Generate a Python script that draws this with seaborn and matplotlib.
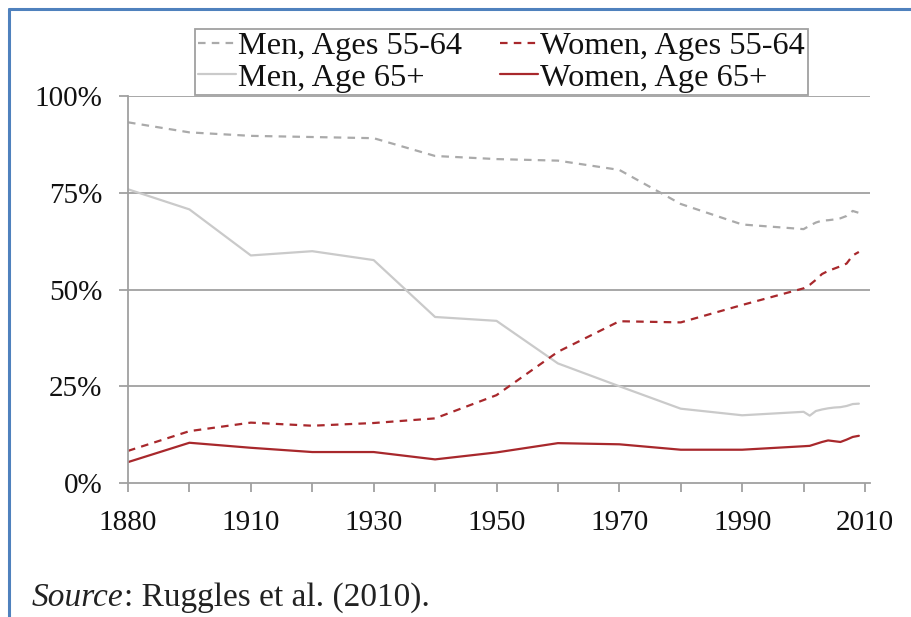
import matplotlib
matplotlib.use("Agg")
import matplotlib.pyplot as plt
from matplotlib.lines import Line2D
import seaborn as sns
import pandas as pd

# ---------------- data ----------------
categories = ["1880", "1900", "1910", "1920", "1930", "1940", "1950",
              "1960", "1970", "1980", "1990", "2000", "2010"]
shown_labels = ["1880", "", "1910", "", "1930", "", "1950",
                "", "1970", "", "1990", "", "2010"]
years = [1880, 1900, 1910, 1920, 1930, 1940, 1950, 1960, 1970, 1980, 1990,
         2000, 2001, 2002, 2003, 2004, 2005, 2006, 2007, 2008, 2009]
men_55_64 = [93.2, 90.6, 89.7, 89.4, 89.1, 84.5, 83.7, 83.3, 80.9, 72.1, 66.8,
             65.6, 66.5, 67.3, 67.8, 67.9, 68.1, 68.4, 69.0, 70.3, 69.8]
women_55_64 = [8.3, 13.4, 15.6, 14.8, 15.5, 16.7, 22.7, 33.9, 41.8, 41.5, 46.0,
               50.3, 51.2, 52.5, 54.0, 54.8, 55.4, 56.0, 56.7, 58.8, 59.7]
men_65 = [75.9, 70.7, 58.8, 59.9, 57.6, 42.9, 41.9, 30.9, 25.0, 19.2, 17.5,
          18.4, 17.4, 18.6, 19.0, 19.3, 19.5, 19.6, 19.9, 20.4, 20.5]
women_65 = [5.4, 10.4, 9.1, 8.0, 8.0, 6.1, 7.9, 10.3, 10.0, 8.6, 8.6,
            9.5, 9.6, 10.1, 10.6, 11.0, 10.8, 10.6, 11.2, 11.9, 12.2]
series_names = ["Men, Ages 55-64", "Men, Age 65+",
                "Women, Ages 55-64", "Women, Age 65+"]
source_italic = "Source"
source_rest = ": Ruggles et al. (2010)."


def year_pos(y):
    # category axis: census years are evenly spaced categories,
    # annual years after 2000 fall inside the last category interval
    if y <= 2000:
        return categories.index(str(y))
    return categories.index("2000") + (y - 2000) / 10.0


pos = [year_pos(y) for y in years]
df = pd.DataFrame({"pos": pos, "m55": men_55_64, "w55": women_55_64,
                   "m65": men_65, "w65": women_65})

# ---------------- style ----------------
sns.set_style("white")
plt.rcParams["font.family"] = ["Liberation Serif", "DejaVu Serif"]

W, H = 911, 617
fig = plt.figure(figsize=(W / 100, H / 100), dpi=100)
ax = fig.add_axes([128 / W, 1 - 483 / H, (870 - 128) / W, (483 - 96) / H])

grey_d = "#AAAAAA"
grey_s = "#CACACA"
red = "#A8282C"
lw = 1.6
dash = (0, (3.4, 2.8))

sns.lineplot(data=df, x="pos", y="m55", ax=ax, color=grey_d, lw=lw,
             linestyle=dash, label=series_names[0])
sns.lineplot(data=df, x="pos", y="m65", ax=ax, color=grey_s, lw=lw,
             label=series_names[1])
sns.lineplot(data=df, x="pos", y="w55", ax=ax, color=red, lw=lw,
             linestyle=dash, label=series_names[2])
sns.lineplot(data=df, x="pos", y="w65", ax=ax, color=red, lw=lw,
             label=series_names[3])

axis_col = "#A0A0A0"
ax.set_xlim(0, 12 * (870 - 128) / (865 - 128))
ax.set_ylim(0, 100)
ax.set_xticks(range(len(categories)))
ax.set_xticklabels(shown_labels)
ax.set_yticks([0, 25, 50, 75, 100])
ax.set_yticklabels(["0%", "25%", "50%", "75%", "100%"])
ax.set_xlabel("")
ax.set_ylabel("")
for yv in [25, 50, 75, 100]:
    ax.axhline(yv, color=axis_col, lw=1.3, zorder=0)
for s in ["top", "right"]:
    ax.spines[s].set_visible(False)
for s in ["left", "bottom"]:
    ax.spines[s].set_color(axis_col)
    ax.spines[s].set_linewidth(1.3)
ax.tick_params(axis="both", direction="out", length=6.5, width=1.3,
               color=axis_col, labelsize=21, labelcolor="#111111")
ax.tick_params(axis="x", pad=13)
ax.tick_params(axis="y", pad=12)
ax.tick_params(bottom=True, left=True)

leg = ax.legend(ncol=2, loc="upper left",
                bbox_to_anchor=(195 / W, 1 - 29 / H),
                bbox_transform=fig.transFigure, borderaxespad=0,
                fontsize=23.3, frameon=True, fancybox=False,
                handlelength=1.2, handletextpad=0.06, columnspacing=1.15,
                labelspacing=0.05, borderpad=0.08)
leg.get_frame().set_edgecolor(axis_col)
leg.get_frame().set_linewidth(1.3)
leg.get_frame().set_facecolor("white")
leg.get_frame().set_alpha(1)
for t in leg.get_texts():
    t.set_color("#111111")

# page frame lines (blue)
blue = "#4F81BD"
fig.add_artist(Line2D([8.5 / W, 8.5 / W], [0, 1 - 8.5 / H], color=blue,
                      lw=2.2, transform=fig.transFigure))
fig.add_artist(Line2D([8.5 / W, 1], [1 - 8.5 / H, 1 - 8.5 / H], color=blue,
                      lw=2.2, transform=fig.transFigure))

# source note
t1 = fig.text(32 / W, 1 - 606 / H, source_italic, style="italic",
              fontsize=24, va="baseline", ha="left", color="#222222")
fig.canvas.draw()
bb = t1.get_window_extent(fig.canvas.get_renderer())
fig.text(bb.x1 / W, 1 - 606 / H, source_rest, fontsize=24,
         va="baseline", ha="left", color="#222222")

fig.savefig("out.png", dpi=100)
